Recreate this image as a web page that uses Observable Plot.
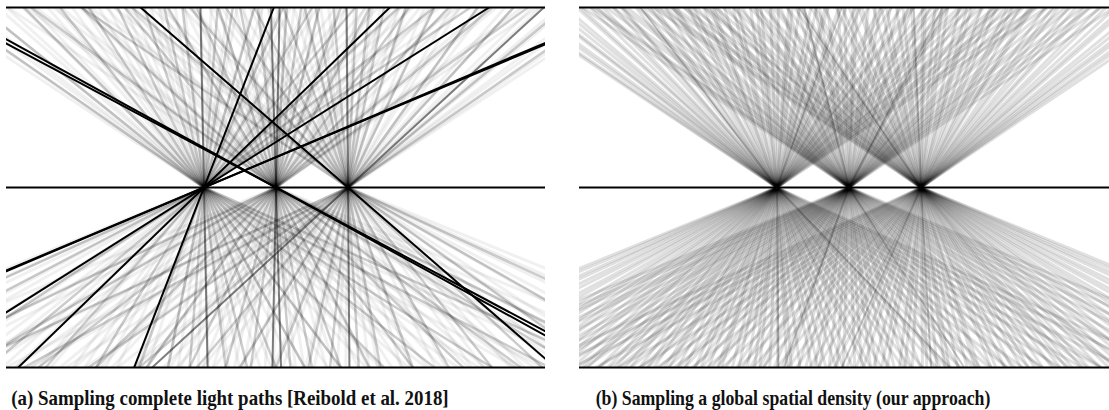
<!DOCTYPE html>
<html><head><meta charset="utf-8">
<script src="https://cdn.jsdelivr.net/npm/d3@7"></script>
<script src="https://cdn.jsdelivr.net/npm/@observablehq/plot@0.6"></script>
<style>
html,body{margin:0;padding:0;background:#fff;overflow:hidden;width:1109px;height:410px}
#wrap{position:relative;width:1109px;height:410px;overflow:hidden}
.panel{position:absolute;top:0;width:551px;height:374px}
.panel svg{max-width:none !important;width:551px !important;height:374px !important}
.cap{position:absolute;top:386px;width:560px;font-family:"Liberation Serif","Times New Roman",serif;font-weight:bold;font-size:21px;line-height:normal;text-align:center;white-space:nowrap;color:#111;transform-origin:50% 50%}
</style></head><body>
<div id="wrap">
 <div id="pa" class="panel" style="left:0"></div>
 <div id="pb" class="panel" style="left:573px"></div>
 <div class="cap" style="left:-50.5px;transform:scaleX(0.9)">(a) Sampling complete light paths [Reibold et al. 2018]</div>
 <div class="cap" style="left:513px;transform:scaleX(0.846)">(b) Sampling a global spatial density (our approach)</div>
</div>
<script>
// Geometry in units of focal spacing: foci at x = -1, 0, 1 on the middle plane (y = 0);
// the top boundary is y = 1 and the bottom boundary is y = -1.
const foci = [-1, 0, 1];
const boundaries = [1, 0, -1];
const panelHalfWidth = 3.743;

// ---- Panel (b): rays from each focus; offset = x distance reached at the boundary ----
const bTopL = [-3.74,-3.68,-3.54,-3.45,-3.28,-3.24,-3.12,-3.02,-2.94,-2.78,-2.73,-2.6,-2.49,-2.42,-2.27,-2.17,-2.14,-1.96,-1.87,-1.75,-1.69,-1.55,-1.44,-1.39,-1.23,-1.15,-1.02,-0.92,-0.88,-0.73,-0.61,-0.54,-0.37,-0.28,-0.22,-0.09,0.02,0.16,0.21,0.31,0.47,0.55,0.67,0.71,0.86,0.96,1.09,1.16,1.27,1.44,1.5,1.59,1.73,1.85,1.9,2.06,2.16,2.24,2.37,2.52,2.59,2.7,2.84,3.02,3.11,3.27,3.39,3.59,3.74];
const bTopM = [-3.7,-3.58,-3.53,-3.37,-3.28,-3.15,-3.08,-2.93,-2.83,-2.79,-2.65,-2.54,-2.46,-2.29,-2.23,-2.11,-2.01,-1.88,-1.83,-1.68,-1.59,-1.48,-1.32,-1.25,-1.13,-1.09,-0.95,-0.85,-0.72,-0.64,-0.47,-0.41,-0.3,-0.15,-0.06,0.06,0.11,0.27,0.37,0.44,0.58,0.69,0.82,0.88,1.03,1.12,1.24,1.34,1.38,1.55,1.63,1.76,1.87,2.01,2.07,2.17,2.33,2.42,2.54,2.61,2.76,2.87,3.0,3.08,3.24,3.36,3.5,3.68];
const bTopR = [-3.72,-3.63,-3.48,-3.42,-3.29,-3.18,-3.01,-2.97,-2.85,-2.75,-2.61,-2.54,-2.38,-2.3,-2.19,-2.06,-2.01,-1.86,-1.76,-1.67,-1.53,-1.47,-1.35,-1.18,-1.1,-1.0,-0.87,-0.82,-0.66,-0.55,-0.48,-0.34,-0.25,-0.13,0.02,0.06,0.19,0.29,0.37,0.53,0.64,0.7,0.84,0.96,1.05,1.2,1.27,1.37,1.5,1.55,1.72,1.83,1.91,2.05,2.15,2.27,2.33,2.48,2.57,2.7,2.81,2.88,3.04,3.14,3.26,3.34,3.48,3.57,3.7];
const bBotL = [-6.1,-5.88,-5.58,-5.4,-5.13,-4.93,-4.68,-4.52,-4.28,-4.09,-3.95,-3.74,-3.57,-3.45,-3.26,-3.11,-3.01,-2.84,-2.71,-2.63,-2.47,-2.35,-2.25,-2.11,-2.04,-1.91,-1.8,-1.71,-1.56,-1.5,-1.38,-1.28,-1.14,-1.06,-0.95,-0.82,-0.77,-0.62,-0.53,-0.41,-0.31,-0.24,-0.1,0.01,0.14,0.2,0.32,0.48,0.57,0.68,0.82,0.92,1.05,1.22,1.3,1.45,1.57,1.75,1.86,2.02,2.22,2.36,2.55,2.78,2.95,3.2,3.41,3.69,3.93,4.23,4.5,4.8,5.15,5.45];
const bBotM = [-6.0,-5.72,-5.52,-5.21,-5.04,-4.78,-4.56,-4.41,-4.18,-4.0,-3.8,-3.67,-3.48,-3.32,-3.21,-3.03,-2.89,-2.8,-2.63,-2.51,-2.36,-2.28,-2.15,-2.04,-1.9,-1.83,-1.71,-1.56,-1.47,-1.37,-1.24,-1.18,-1.04,-0.93,-0.85,-0.7,-0.6,-0.48,-0.41,-0.28,-0.17,-0.08,0.08,0.18,0.3,0.38,0.52,0.63,0.78,0.87,1.0,1.17,1.27,1.41,1.53,1.71,1.82,1.98,2.18,2.31,2.5,2.65,2.87,3.05,3.3,3.5,3.77,4.0,4.3,4.56,4.85,5.15,5.5,5.85];
const bBotR = [-5.42,-5.12,-4.83,-4.52,-4.2,-3.91,-3.67,-3.43,-3.18,-2.97,-2.76,-2.53,-2.34,-2.2,-2.0,-1.84,-1.73,-1.55,-1.43,-1.28,-1.2,-1.03,-0.9,-0.8,-0.66,-0.55,-0.47,-0.3,-0.22,-0.12,0.02,0.08,0.22,0.33,0.39,0.51,0.64,0.75,0.8,0.97,1.04,1.16,1.26,1.39,1.49,1.58,1.69,1.82,1.93,2.02,2.1,2.23,2.33,2.49,2.61,2.69,2.82,2.99,3.09,3.24,3.43,3.55,3.72,3.93,4.1,4.26,4.5,4.66,4.91,5.1,5.4,5.6,5.86,6.1];
// a few denser rays in (b): [focus, offset]
const bTopStrong = [[1,-0.1],[0,-0.62],[-1,0.9],[0,1.3],[-1,-1.9],[1,-1.7]];
const bBotStrong = [[1,0.14],[-1,0.02],[0,-0.9],[0,1.6],[-1,2.4],[1,-1.1]];

// ---- Panel (a): faint rays, grey rays, and dark/black complete paths ----
const aTopL = [-3.78,-3.62,-3.41,-3.29,-3.1,-2.86,-2.74,-2.52,-2.4,-2.17,-2.04,-1.83,-1.68,-1.46,-1.33,-1.1,-0.98,-0.74,-0.63,-0.4,-0.27,-0.04,0.1,0.33,0.46,0.69,0.82,1.06,1.2,1.44,1.58,1.83,1.98,2.26,2.42,2.73,2.9,3.27,3.52];
const aTopM = [-3.72,-3.47,-3.34,-3.09,-2.98,-2.73,-2.62,-2.36,-2.24,-2.0,-1.88,-1.63,-1.52,-1.28,-1.16,-0.92,-0.81,-0.56,-0.45,-0.21,-0.1,0.14,0.25,0.5,0.6,0.86,0.97,1.23,1.34,1.6,1.73,2.0,2.13,2.42,2.57,2.9,3.06,3.42,3.64];
const aTopR = [-3.58,-3.24,-3.07,-2.74,-2.6,-2.3,-2.16,-1.88,-1.76,-1.5,-1.37,-1.12,-1.0,-0.75,-0.63,-0.38,-0.27,-0.02,0.09,0.34,0.45,0.7,0.82,1.06,1.18,1.44,1.55,1.81,1.93,2.18,2.3,2.56,2.68,2.93,3.05,3.31,3.43,3.68,3.82];
const aBotL = [-6.1,-5.55,-5.2,-4.7,-4.41,-3.98,-3.74,-3.36,-3.14,-2.8,-2.62,-2.3,-2.13,-1.82,-1.66,-1.37,-1.21,-0.93,-0.78,-0.5,-0.36,-0.08,0.06,0.34,0.49,0.78,0.93,1.24,1.4,1.72,1.9,2.25,2.45,2.84,3.08,3.53,3.82,4.33,4.7,5.3];
const aBotM = [-5.9,-5.25,-4.88,-4.36,-4.07,-3.62,-3.4,-3.0,-2.8,-2.44,-2.28,-1.94,-1.79,-1.47,-1.33,-1.02,-0.88,-0.58,-0.45,-0.15,-0.03,0.27,0.39,0.7,0.82,1.14,1.28,1.61,1.77,2.12,2.3,2.68,2.9,3.33,3.58,4.06,4.37,4.97,5.38,5.95];
const aBotR = [-5.35,-4.75,-4.42,-3.92,-3.65,-3.2,-2.98,-2.57,-2.38,-2.02,-1.86,-1.51,-1.37,-1.04,-0.91,-0.59,-0.47,-0.15,-0.03,0.29,0.41,0.74,0.87,1.22,1.36,1.72,1.88,2.26,2.45,2.87,3.09,3.55,3.83,4.35,4.68,5.2,5.6,6.1];
// grey rays: [focus, offset]
const aTopGrey = [[-1,-3.6],[-1,-3.1],[-1,-2.5],[-1,-2.0],[-1,-1.6],[-1,-1.2],[-1,-0.83],[-1,-0.55],[-1,-0.3],[-1,0.19],[-1,0.4],[-1,0.7],[-1,1.1],[-1,1.5],[-1,2.1],[-1,2.7],[-1,3.2],[-1,3.7],
  [0,-3.4],[0,-2.7],[0,-2.1],[0,-1.5],[0,-1.1],[0,-0.8],[0,-0.5],[0,-0.25],[0,0.15],[0,0.35],[0,0.6],[0,0.9],[0,1.3],[0,1.85],[0,2.4],[0,3.0],[0,3.5],
  [1,-3.7],[1,-3.0],[1,-2.2],[1,-1.7],[1,-1.3],[1,-0.9],[1,-0.6],[1,-0.45],[1,-0.2],[1,0.12],[1,0.3],[1,0.5],[1,0.8],[1,1.2],[1,1.8],[1,2.3],[1,3.0],[1,3.6]];
const aBotGrey = [[-1,-5.5],[-1,-4.8],[-1,-3.8],[-1,-3.0],[-1,-2.2],[-1,-1.5],[-1,-0.9],[-1,-0.5],[-1,-0.2],[-1,0.3],[-1,0.6],[-1,1.0],[-1,1.4],[-1,1.9],[-1,2.5],[-1,3.2],[-1,4.0],[-1,4.8],[-1,5.6],
  [0,-5.2],[0,-4.3],[0,-3.3],[0,-2.5],[0,-1.8],[0,-1.2],[0,-0.7],[0,-0.35],[0,0.2],[0,0.5],[0,0.9],[0,1.3],[0,1.9],[0,2.6],[0,3.4],[0,4.2],[0,5.0],
  [1,-5.4],[1,-4.5],[1,-3.6],[1,-2.9],[1,-2.1],[1,-1.5],[1,-1.0],[1,-0.55],[1,-0.25],[1,0.15],[1,0.45],[1,0.9],[1,1.4],[1,2.0],[1,2.7],[1,3.5],[1,4.4],[1,5.4]];
// complete paths: [focus, offset at the top boundary]; the path continues straight through the focus
const aDarkPaths = [[1,2.72],[-1,-0.05],[0,-0.07],[1,-0.02],[0,0.05]];
const aBlackPaths = [[1,-2.88],[0,-4.55],[0,-4.68],[-1,0.97],[-1,2.58],[-1,3.96],[-1,5.9],[-1,5.96]];

const rays = (f, arr, side) => arr.map(o => ({focus: f, offset: o, side}));
const pairs = (arr, side) => arr.map(([f, o]) => ({focus: f, offset: o, side}));

function rayMark(data, opacity, width) {
  return Plot.link(data, {
    x1: d => d.focus, y1: d => 0,
    x2: d => d.focus + d.offset, y2: d => d.side,
    stroke: "#000", strokeOpacity: opacity, strokeWidth: width, clip: true
  });
}
function pathMark(data, opacity, width) {
  return Plot.link(data, {
    x1: d => d.focus + d.offset, y1: d => 1,
    x2: d => d.focus - d.offset, y2: d => -1,
    stroke: "#000", strokeOpacity: opacity, strokeWidth: width, clip: true
  });
}
function frame(marks) {
  return Plot.plot({
    width: 551, height: 374,
    marginLeft: 6, marginRight: 6, marginTop: 7, marginBottom: 7,
    x: {domain: [-panelHalfWidth, panelHalfWidth], axis: null},
    y: {domain: [-1, 1], axis: null},
    style: {background: "#fff", overflow: "visible"},
    marks: [...marks, Plot.ruleY(boundaries, {stroke: "#000", strokeWidth: 2})]
  });
}

const bFaint = [
  ...rays(-1, bTopL, 1), ...rays(0, bTopM, 1), ...rays(1, bTopR, 1),
  ...rays(-1, bBotL, -1), ...rays(0, bBotM, -1), ...rays(1, bBotR, -1)
];
const bStrong = [...pairs(bTopStrong, 1), ...pairs(bBotStrong, -1)];
document.getElementById("pb").append(frame([
  rayMark(bFaint, 0.12, 3),
  rayMark(bStrong, 0.22, 2)
]));

const aFaint = [
  ...rays(-1, aTopL, 1), ...rays(0, aTopM, 1), ...rays(1, aTopR, 1),
  ...rays(-1, aBotL, -1), ...rays(0, aBotM, -1), ...rays(1, aBotR, -1)
];
const aGrey = [...pairs(aTopGrey, 1), ...pairs(aBotGrey, -1)];
document.getElementById("pa").append(frame([
  rayMark(aFaint, 0.06, 3),
  rayMark(aGrey, 0.2, 2.5),
  pathMark(pairs(aDarkPaths, 1), 0.5, 2),
  pathMark(pairs(aBlackPaths, 1), 1, 2)
]));
</script>
</body></html>
